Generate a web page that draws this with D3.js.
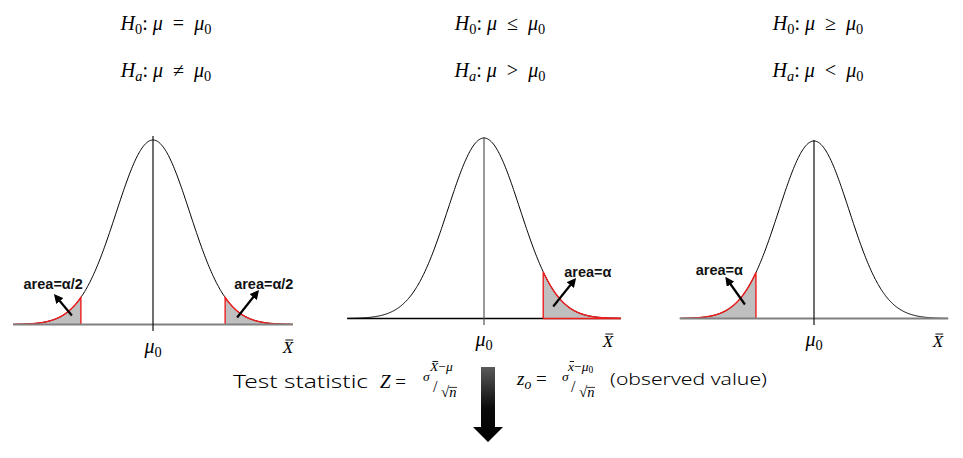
<!DOCTYPE html>
<html><head><meta charset="utf-8">
<script src="https://cdn.jsdelivr.net/npm/d3@7"></script>
<style>body{margin:0;background:#fff}svg{display:block}</style>
</head><body>
<script>
// ---- data ----
const testNames = ["Two-tailed", "Right-tailed", "Left-tailed"];
const nullOps = ["=", "≤", "≥"];
const altOps = ["≠", ">", "<"];
const alphaLabels = ["area=α/2", "area=α", "area=α"];
const criticalZ = [[-1.96, 1.96], [1.645], [-1.645]];
const zExtent = [-3.8, 3.8];
const meanLabel = "μ";
const axisLabel = "X";

// ---- layout (pixels) ----
const W = 963, H = 458;
const layout = [
  {cx:153, sig:36.8, base:324.5, peak:140, lineTop:136, lineBot:331, headX:166, muY:353, xbX:288, xbY:353, baseColor:"#808080", baseW:2.2, vColor:"#111",
   arrows:[{sx:-9, sy:-9, tx:-24, ty:-27, lx:2, ly:-36, anchor:"end"}, {sx:12, sy:-7, tx:31, ty:-31, lx:9, ly:-36, anchor:"start"}]},
  {cx:484, sig:36.0, base:318.5, peak:138, lineTop:137, lineBot:325, headX:500, muY:346, xbX:608, xbY:347, baseColor:"#000", baseW:1.6, vColor:"#555",
   arrows:[{sx:10, sy:-12, tx:30, ty:-37, lx:21, ly:-42, anchor:"start"}]},
  {cx:814, sig:35.3, base:318.5, peak:141, lineTop:140, lineBot:325, headX:818, muY:346, xbX:938, xbY:347, baseColor:"#808080", baseW:2.2, vColor:"#111",
   arrows:[{sx:-11, sy:-14, tx:-28, ty:-38, lx:-13, ly:-44, anchor:"end"}]}
];

const svg = d3.select("body").append("svg").attr("width", W).attr("height", H).attr("viewBox", `0 0 ${W} ${H}`);
svg.append("rect").attr("width", W).attr("height", H).attr("fill", "#fff");
const defs = svg.append("defs");
defs.append("marker").attr("id", "ah").attr("viewBox", "0 0 10 10").attr("refX", 5).attr("refY", 5)
  .attr("markerWidth", 4.2).attr("markerHeight", 4.2).attr("orient", "auto")
  .append("path").attr("d", "M0,0 L10,5 L0,10 Z").attr("fill", "#000");
const grad = defs.append("linearGradient").attr("id", "ag").attr("x1", 0).attr("y1", 0).attr("x2", 0).attr("y2", 1);
grad.append("stop").attr("offset", "0%").attr("stop-color", "#5a5a5a");
grad.append("stop").attr("offset", "55%").attr("stop-color", "#0a0a0a");
grad.append("stop").attr("offset", "100%").attr("stop-color", "#000");

const serif = "'Liberation Serif', 'DejaVu Serif', serif";
const sans = "'Noto Sans', 'DejaVu Sans', sans-serif";
const pdf = z => Math.exp(-z * z / 2) / Math.sqrt(2 * Math.PI);

function mathLine(sel, x, y, parts, size, anchor) {
  const t = sel.append("text").attr("x", x).attr("y", y).attr("font-family", serif)
    .attr("font-size", size).attr("text-anchor", anchor || "middle").attr("fill", "#000");
  let shift = 0;
  parts.forEach(p => {
    const ts = t.append("tspan").text(p.t);
    if (p.i) ts.attr("font-style", "italic");
    const target = p.sub ? size * 0.22 : 0;
    if (target !== shift) { ts.attr("dy", target - shift); shift = target; }
    if (p.sub) ts.attr("font-size", size * 0.72);
  });
  return t;
}
function xbar(sel, x, y, size, ch, anchor) {
  const t = sel.append("text").attr("x", x).attr("y", y).attr("font-family", serif).attr("font-style", "italic")
    .attr("font-size", size).attr("text-anchor", anchor || "middle").text(ch || axisLabel);
  const b = t.node().getBBox();
  sel.append("line").attr("x1", b.x + b.width * 0.3).attr("x2", b.x + b.width * 0.95)
    .attr("y1", b.y + size * 0.12).attr("y2", b.y + size * 0.12).attr("stroke", "#000").attr("stroke-width", Math.max(0.9, size / 18));
  return t;
}

const sp = "\u2002";
testNames.forEach((name, i) => {
  const L = layout[i];
  const g = svg.append("g").attr("class", "panel").attr("data-test", name);
  const x = d3.scaleLinear().domain(zExtent).range([L.cx + zExtent[0] * L.sig, L.cx + zExtent[1] * L.sig]);
  const y = d3.scaleLinear().domain([0, pdf(0)]).range([L.base, L.peak]);
  const zs = d3.range(zExtent[0], zExtent[1] + 1e-9, 0.02);

  // headers
  mathLine(g, L.headX, 30, [{t:"H", i:true}, {t:"0", sub:true}, {t:": "}, {t:"μ", i:true}, {t:sp + nullOps[i] + sp}, {t:"μ", i:true}, {t:"0", sub:true}], 20);
  mathLine(g, L.headX, 77, [{t:"H", i:true}, {t:"a", sub:true, i:true}, {t:": "}, {t:"μ", i:true}, {t:sp + altOps[i] + sp}, {t:"μ", i:true}, {t:"0", sub:true}], 20);

  const drawBase = () => g.append("line").attr("x1", x(zExtent[0])).attr("x2", x(zExtent[1]))
    .attr("y1", L.base).attr("y2", L.base).attr("stroke", L.baseColor).attr("stroke-width", L.baseW);
  if (i === 1) drawBase();

  const tailZ = c => c < 0 ? zs.filter(z => z <= c).concat([c]) : [c].concat(zs.filter(z => z >= c));
  // shaded tails
  criticalZ[i].forEach(c => {
    g.append("path").datum(tailZ(c))
      .attr("d", d3.area().x(z => x(z)).y0(L.base).y1(z => y(pdf(z))))
      .attr("fill", "#bfbfbf").attr("stroke", "none");
  });
  // curve
  g.append("path").datum(zs).attr("d", d3.line().x(z => x(z)).y(z => y(pdf(z))))
    .attr("fill", "none").attr("stroke", "#000").attr("stroke-width", 1);
  // red outlines
  criticalZ[i].forEach(c => {
    const pts = tailZ(c).map(z => [x(z), y(pdf(z))]);
    if (c < 0) pts.push([x(c), L.base]); else pts.unshift([x(c), L.base]);
    g.append("path").datum(pts).attr("d", d3.line())
      .attr("fill", "none").attr("stroke", "#ee1c1c").attr("stroke-width", 1.4);
    if (i === 1) g.append("line").attr("x1", x(c)).attr("x2", x(zExtent[1])).attr("y1", L.base).attr("y2", L.base)
      .attr("stroke", "#ee1c1c").attr("stroke-width", 1.4);
  });
  if (i !== 1) drawBase();

  // center line
  g.append("line").attr("x1", x(0)).attr("x2", x(0)).attr("y1", L.lineTop).attr("y2", L.lineBot)
    .attr("stroke", L.vColor).attr("stroke-width", 1.2);

  // arrows + labels
  criticalZ[i].forEach((c, k) => {
    const A = L.arrows[k];
    const cx = x(c);
    g.append("line").attr("x1", cx + A.sx).attr("y1", L.base + A.sy).attr("x2", cx + A.tx).attr("y2", L.base + A.ty)
      .attr("stroke", "#000").attr("stroke-width", 2.2).attr("marker-end", "url(#ah)");
    g.append("text").attr("x", cx + A.lx).attr("y", L.base + A.ly).attr("text-anchor", A.anchor)
      .attr("font-family", "'Liberation Sans', Arial, sans-serif").attr("font-weight", "bold").attr("font-size", 14.5)
      .attr("fill", "#111").text(alphaLabels[i]);
  });

  // mu0 and X-bar labels
  mathLine(g, x(0), L.muY, [{t:meanLabel, i:true}, {t:"0", sub:true}], 20);
  xbar(g, L.xbX, L.xbY, 17);
});

// ---- bottom formulas ----
const bot = svg.append("g");
bot.append("text").attr("x", 233).attr("y", 388).attr("font-family", sans)
  .attr("font-weight", 300).attr("font-size", 18).attr("textLength", 135).attr("lengthAdjust", "spacingAndGlyphs").text("Test statistic");
mathLine(bot, 380, 388, [{t:"Z", i:true}, {t:" = "}], 19, "start");

// slanted fraction (numerator over σ/√n) as one text element
function fraction(x0, xn, numParts, den) {
  const t = bot.append("text").attr("font-family", serif).attr("font-size", 13.5).attr("fill", "#000");
  let first = true;
  numParts.forEach(p => {
    const ts = t.append("tspan").text(p.t);
    if (first) { ts.attr("x", xn).attr("y", 371); first = false; }
    if (p.i) ts.attr("font-style", "italic");
    if (p.sub) ts.attr("font-size", 9.5).attr("dy", 2);
  });
  t.append("tspan").attr("x", x0).attr("y", 381).attr("font-style", "italic").text("σ");
  t.append("tspan").attr("x", x0 + den.slash).attr("y", 392).attr("font-size", 16).text("/");
  t.append("tspan").attr("x", x0 + den.root).attr("y", 397).attr("font-size", 15).text("√");
  t.append("tspan").attr("font-style", "italic").attr("font-size", 14.5).text("n");
  const node = t.node();
  const nChars = node.getNumberOfChars();
  const e0 = node.getExtentOfChar(0);
  bot.append("line").attr("x1", e0.x + e0.width * 0.3).attr("x2", e0.x + e0.width * 1.0)
    .attr("y1", e0.y + 2.5).attr("y2", e0.y + 2.5).attr("stroke", "#000").attr("stroke-width", 0.9);
  const en = node.getExtentOfChar(nChars - 1);
  bot.append("line").attr("x1", en.x - 0.5).attr("x2", en.x + en.width + 0.5)
    .attr("y1", en.y + 3.4).attr("y2", en.y + 3.4).attr("stroke", "#000").attr("stroke-width", 0.8);
}
fraction(423, 430, [{t:"X", i:true}, {t:"−"}, {t:"μ", i:true}], {slash:10, root:18});

mathLine(bot, 517, 385, [{t:"z", i:true}, {t:"o", sub:true, i:true}, {t:" = "}], 19, "start");
fraction(562, 568, [{t:"x", i:true}, {t:"−"}, {t:"μ", i:true}, {t:"0", sub:true}], {slash:9, root:17});
bot.append("text").attr("x", 610).attr("y", 385).attr("font-family", sans)
  .attr("font-weight", 300).attr("font-size", 17).attr("textLength", 157).attr("lengthAdjust", "spacingAndGlyphs").text("(observed value)");

// big down arrow
const ax = 488;
bot.append("path").attr("d", d3.line()([[ax - 7, 367], [ax + 7, 367], [ax + 7, 427], [ax + 15, 427], [ax, 442], [ax - 15, 427], [ax - 7, 427]]) + "Z")
  .attr("fill", "url(#ag)");
</script>
</body></html>
